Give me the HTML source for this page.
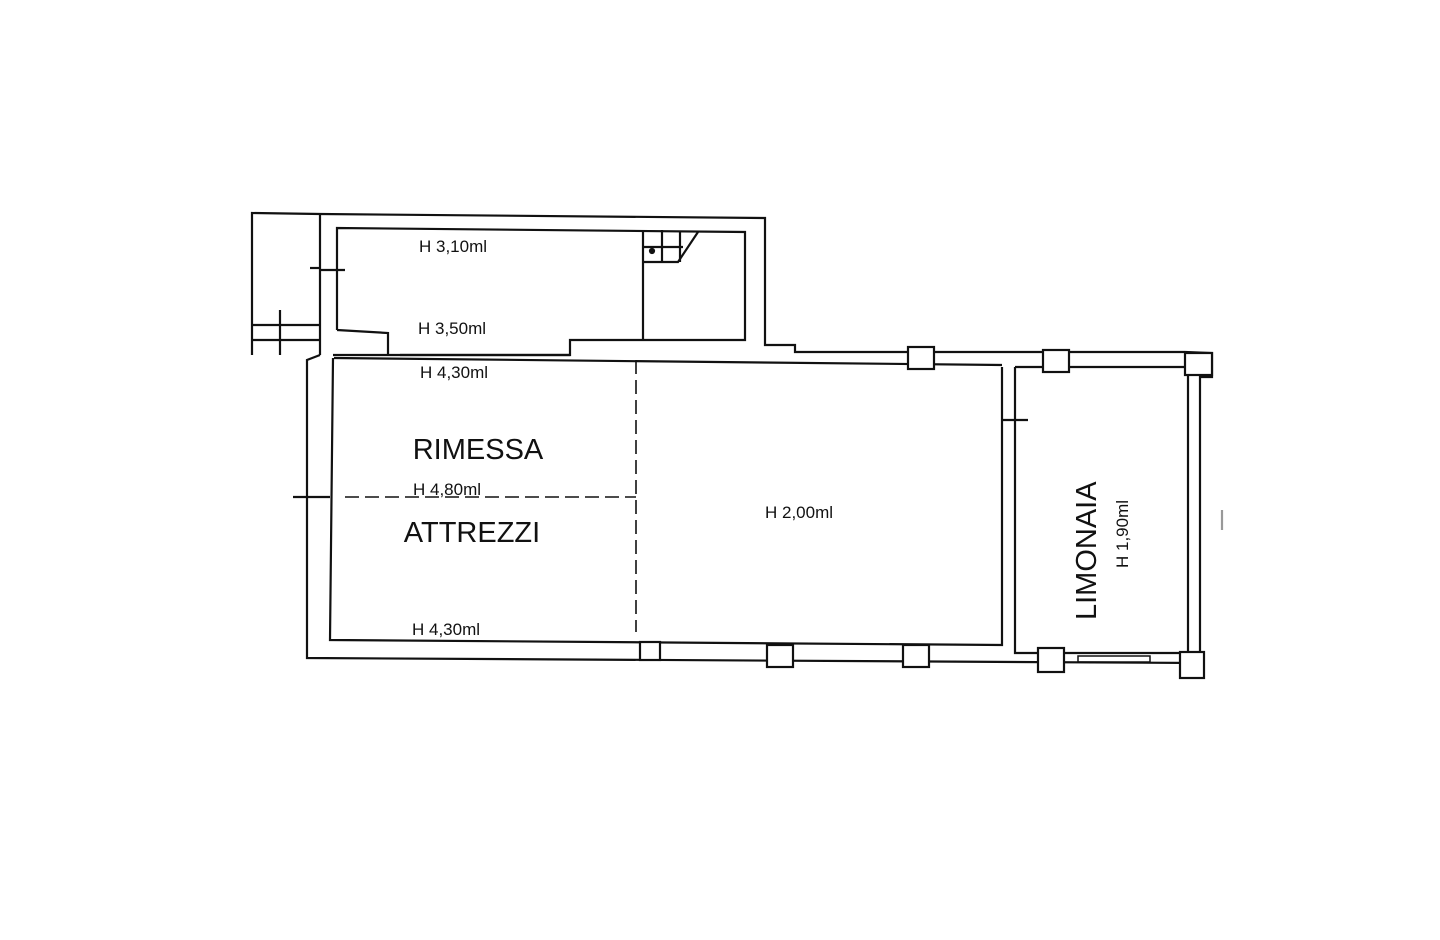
<!DOCTYPE html>
<html><head><style>
body{margin:0;background:#fff;width:1440px;height:940px;overflow:hidden}
svg{display:block}
text{font-family:"Liberation Sans",sans-serif;fill:#111}
</style></head><body>
<svg width="1440" height="940" viewBox="0 0 1440 940" fill="none" stroke="#111" stroke-width="2.2">
<!-- upper block -->
<polyline points="252,355 252,213 320,214 765,218 765,345 795,345 795,352 1185,352"/>
<polyline points="337,330 337,228 745,232 745,340 570,340 570,355 400,355"/>
<polyline points="320,214 320,355"/>
<polyline points="337,330 388,333 388,355"/>
<line x1="333" y1="355" x2="570" y2="355"/>
<polyline points="252,325 320,325"/><polyline points="252,340 320,340"/><polyline points="280,310 280,355"/>
<line x1="320" y1="270" x2="345" y2="270"/><line x1="310" y1="268" x2="320" y2="268"/>
<!-- stair -->
<polyline points="643,230 643,340"/><polyline points="643,262 678,262 698,232"/><polyline points="643,247 683,247"/><polyline points="662,230 662,262"/><polyline points="680,232 680,262"/>
<circle cx="652" cy="251" r="2" fill="#111"/>
<!-- main room -->
<polyline points="320,355 307,360 307,658 1200,663"/>
<polyline points="333,358 330,640 1002,645 1002,367"/>
<polyline points="334,358 1002,365"/>
<polyline points="1015,367 1015,653 1188,653 1188,367 1015,367"/>
<polyline points="1185,352 1212,353 1212,377 1200,377 1200,663 1200,677 1188,677"/>
<line x1="1002" y1="420" x2="1028" y2="420"/>
<line x1="293" y1="497" x2="330" y2="497"/>
<!-- pillars -->
<rect x="908" y="347" width="26" height="22" fill="#fff"/>
<rect x="1043" y="350" width="26" height="22" fill="#fff"/>
<rect x="1185" y="353" width="27" height="22" fill="#fff"/>
<rect x="767" y="645" width="26" height="22" fill="#fff"/>
<rect x="903" y="645" width="26" height="22" fill="#fff"/>
<rect x="1038" y="648" width="26" height="24" fill="#fff"/>
<rect x="1180" y="652" width="24" height="26" fill="#fff"/>
<rect x="640" y="642" width="20" height="18" fill="#fff"/>
<rect x="1078" y="656" width="72" height="6" stroke-width="1.5"/>
<line x1="1222" y1="510" x2="1222" y2="530" stroke="#999"/>
<!-- dashed -->
<line x1="636" y1="360" x2="636" y2="632" stroke-dasharray="14,6" stroke-width="1.6"/>
<line x1="345" y1="497" x2="636" y2="497" stroke-dasharray="14,6" stroke-width="1.6"/>
<g stroke="none">
<text x="419" y="252" font-size="17">H 3,10ml</text>
<text x="418" y="334" font-size="17">H 3,50ml</text>
<text x="420" y="378" font-size="17">H 4,30ml</text>
<text x="478" y="459" font-size="29" text-anchor="middle">RIMESSA</text>
<text x="413" y="495" font-size="17">H 4,80ml</text>
<text x="472" y="542" font-size="29" text-anchor="middle">ATTREZZI</text>
<text x="412" y="635" font-size="17">H 4,30ml</text>
<text x="765" y="518" font-size="17">H 2,00ml</text>
<text transform="translate(1096,620) rotate(-90)" font-size="29">LIMONAIA</text>
<text transform="translate(1128,568) rotate(-90)" font-size="17">H 1,90ml</text>
</g>
</svg>
</body></html>
